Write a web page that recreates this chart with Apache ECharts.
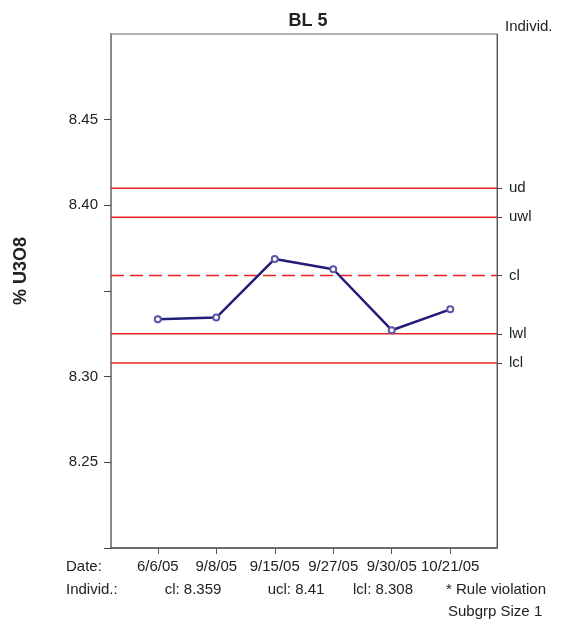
<!DOCTYPE html>
<html>
<head>
<meta charset="utf-8">
<script src="https://cdn.jsdelivr.net/npm/echarts@6/dist/echarts.min.js"></script>
<style>
html,body{margin:0;padding:0;background:#fff;}
#chart{width:562px;height:625px;}
</style>
</head>
<body>
<div id="chart"></div>
<script>
// ---- data ----
const dates = ["6/6/05", "9/8/05", "9/15/05", "9/27/05", "9/30/05", "10/21/05"];
const values = [8.3335, 8.3345, 8.3687, 8.3627, 8.3271, 8.3393];
const limitNames = ["ud", "uwl", "cl", "lwl", "lcl"];
const limitValues = [8.41, 8.393, 8.359, 8.325, 8.308];
const yTickValues = [8.20, 8.25, 8.30, 8.35, 8.40, 8.45];
const yLabelValues = [8.25, 8.30, 8.40, 8.45];
const footerStats = ["cl: 8.359", "ucl: 8.41", "lcl: 8.308"];

const chart = echarts.init(document.getElementById('chart'), null, {renderer: 'canvas'});
const textColor = '#222';
const red = '#e8231f';
const font = 'Liberation Sans, Arial, sans-serif';
const f15 = '15px ' + font;

const lineSeries = limitNames.map((n, i) => ({
  type: 'line',
  name: n,
  data: [[0.2, limitValues[i]], [6.8, limitValues[i]]],
  symbol: 'none',
  silent: true,
  lineStyle: {color: red, width: 1.5, type: n === 'cl' ? [13, 6] : 'solid'},
  z: 2
}));

const option = {
  animation: false,
  backgroundColor: '#fff',
  title: {
    text: 'BL 5', left: 303, top: 7, textAlign: 'center',
    textStyle: {fontFamily: font, fontSize: 18, fontWeight: 'bold', color: textColor}
  },
  grid: {left: 111, right: 65, top: 34, bottom: 77, show: true, borderColor: '#666', borderWidth: 1},
  xAxis: {
    type: 'value', min: 0.2, max: 6.8,
    splitLine: {show: false},
    axisLine: {show: true, lineStyle: {color: '#555', width: 1.5}},
    axisTick: {show: true, customValues: [1, 2, 3, 4, 5, 6], length: 6, lineStyle: {color: '#555'}},
    axisLabel: {
      customValues: [1, 2, 3, 4, 5, 6], margin: 11,
      fontFamily: font, fontSize: 15, color: textColor,
      formatter: v => dates[Math.round(v) - 1]
    }
  },
  yAxis: [{
    type: 'value', min: 8.2, max: 8.5, position: 'left',
    splitLine: {show: false},
    axisLine: {show: true, lineStyle: {color: '#888', width: 2}},
    axisTick: {show: true, customValues: yTickValues, length: 7, lineStyle: {color: '#444'}},
    axisLabel: {
      customValues: yLabelValues, margin: 13,
      fontFamily: font, fontSize: 15, color: textColor,
      formatter: v => v.toFixed(2)
    }
  }, {
    type: 'value', min: 8.2, max: 8.5, position: 'right',
    splitLine: {show: false},
    axisLine: {show: true, lineStyle: {color: '#555', width: 1}},
    axisTick: {show: true, inside: false, customValues: limitValues, length: 5, lineStyle: {color: '#444'}},
    axisLabel: {
      customValues: limitValues, margin: 12,
      fontFamily: font, fontSize: 15, color: textColor,
      formatter: v => {
        let best = 0;
        limitValues.forEach((lv, i) => { if (Math.abs(lv - v) < Math.abs(limitValues[best] - v)) best = i; });
        return limitNames[best];
      }
    }
  }],
  series: lineSeries.concat([{
    type: 'line',
    name: 'Individ.',
    data: values.map((v, i) => [i + 1, v]),
    symbol: 'emptyCircle', symbolSize: 6,
    itemStyle: {color: '#5b55a8', borderWidth: 1},
    lineStyle: {color: '#231d78', width: 2.5},
    z: 5
  }]),
  graphic: [
    {type: 'text', x: 21, y: 271, rotation: Math.PI / 2,
     style: {text: '% U3O8', font: 'bold 18px ' + font, fill: textColor, align: 'center', verticalAlign: 'middle'}},
    {type: 'text', left: 505, top: 19, style: {text: 'Individ.', font: f15, fill: textColor}},
    {type: 'text', left: 66, top: 559, style: {text: 'Date:', font: f15, fill: textColor}},
    {type: 'text', left: 66, top: 582, style: {text: 'Individ.:', font: f15, fill: textColor}},
    {type: 'text', x: 193, y: 582, style: {text: footerStats[0], font: f15, fill: textColor, align: 'center'}},
    {type: 'text', x: 296, y: 582, style: {text: footerStats[1], font: f15, fill: textColor, align: 'center'}},
    {type: 'text', x: 383, y: 582, style: {text: footerStats[2], font: f15, fill: textColor, align: 'center'}},
    {type: 'text', left: 446, top: 582, style: {text: '* Rule violation', font: f15, fill: textColor}},
    {type: 'text', left: 448, top: 604, style: {text: 'Subgrp Size 1', font: f15, fill: textColor}}
  ]
};
chart.setOption(option);
</script>
</body>
</html>
